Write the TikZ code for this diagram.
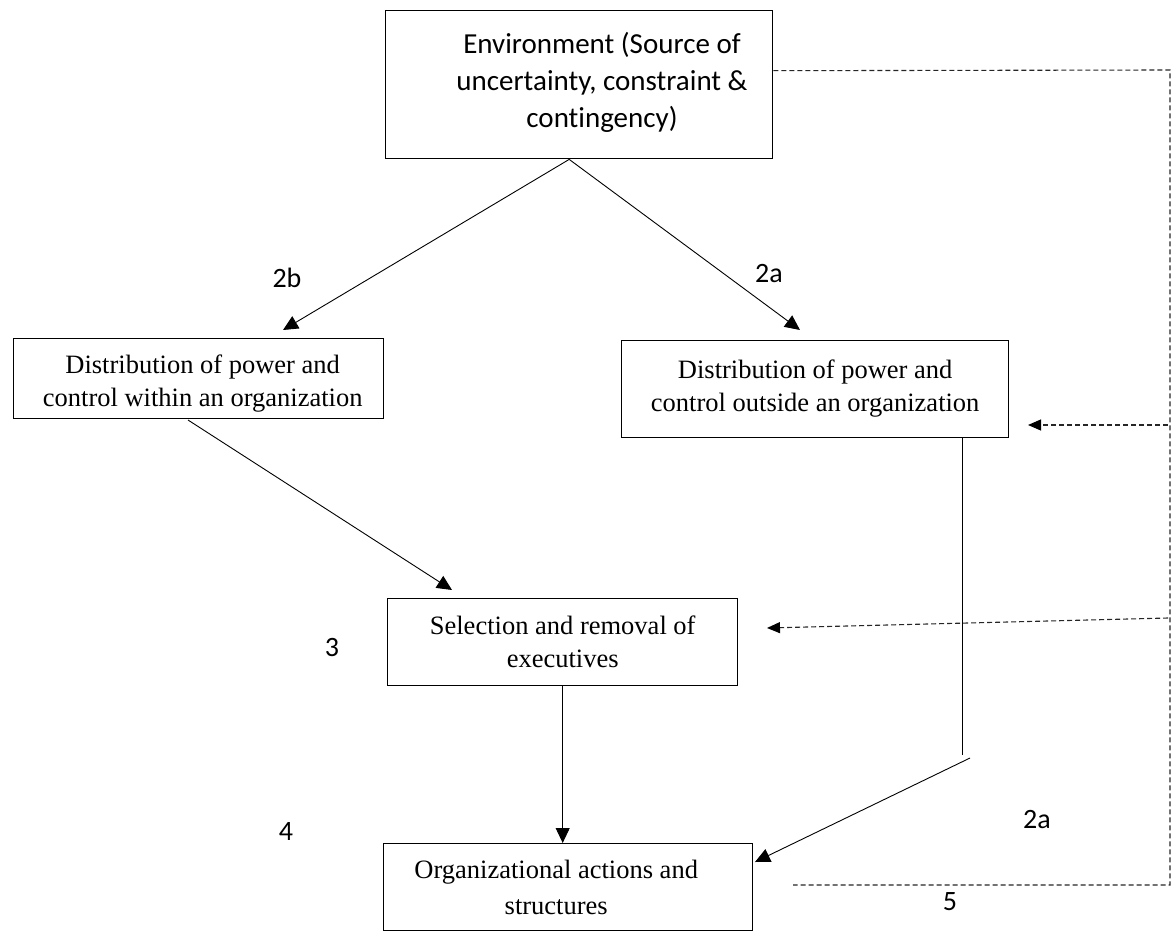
\documentclass[tikz,border=0pt]{standalone}
\usepackage{fontspec}
\setmainfont{Liberation Serif}
\newfontfamily\labelfont[Ligatures=NoCommon]{Carlito}
\usetikzlibrary{arrows.meta}
\begin{document}
\begin{tikzpicture}[x=1pt,y=-1pt,
  box/.style={draw=black,line width=1.4pt,inner sep=0pt,anchor=north west},
  boxtext/.style={align=center,font=\fontsize{26.5}{33}\selectfont},
  envtext/.style={align=center,font=\labelfont\fontsize{29}{37}\selectfont},
  tag/.style={font=\labelfont\fontsize{28}{34}\selectfont},
  link/.style={draw=black,line width=0.9pt},
  linkarrow/.style={link,-{Triangle[length=15pt,width=14pt]}},
  feedback/.style={draw=black!85,line width=1.1pt,dash pattern=on 5pt off 3pt},
  feedbackarrow/.style={feedback,-{Triangle[length=13pt,width=11pt,color=black,fill=black]}}]
\useasboundingbox (0,0) rectangle (1172,939);

% boxes
\node[box,minimum width=387pt,minimum height=148pt] (env) at (385,10) {};
\node[envtext] (envlabel) at (602,82) {Environment (Source of\\uncertainty, constraint \&\\contingency)};
\node[box,minimum width=370pt,minimum height=80pt] (inside) at (13,338) {};
\node[boxtext] (insidelabel) at ([xshift=4pt,yshift=-5pt]inside.center) {Distribution of power and\\control within an organization};
\node[box,minimum width=387pt,minimum height=97pt] (outside) at (621,340) {};
\node[boxtext] (outsidelabel) at ([yshift=1pt]outside.center) {Distribution of power and\\control outside an organization};
\node[box,minimum width=350pt,minimum height=87pt] (select) at (387,598) {};
\node[boxtext] (selectlabel) at (select.center) {Selection and removal of\\executives};
\node[box,minimum width=369pt,minimum height=87pt] (actions) at (383,843) {};
\node[boxtext,font=\fontsize{26.5}{36}\selectfont] (actionslabel) at ([xshift=-12pt]actions.center) {Organizational actions and\\structures};

% numbered tags
\node[tag] (t2b) at (287,278) {2b};
\node[tag] (t2a) at (769,274) {2a};
\node[tag] (t3) at (332,648) {3};
\node[tag] (t4) at (286,832) {4};
\node[tag] (t2c) at (1037,820) {2a};
\node[tag] (t5) at (950,902) {5};

% connector end points
\coordinate (envfoot) at ([xshift=-10pt]env.south);
\coordinate (tipin) at (283,330);
\coordinate (tipout) at (800,330);
\coordinate (insidefoot) at (188,420);
\coordinate (tipsel) at (452,590);
\coordinate (outfoot) at (outside.south -| 962,0);
\coordinate (outdrop) at (962,755);
\coordinate (bendstart) at (970,758);
\coordinate (tipact) at (755,862);
\coordinate (fbtop) at (1170,70);
\coordinate (fbbottom) at (1170,885);
\coordinate (fbend) at (793,885);
\coordinate (fbout) at (1168,425);
\coordinate (fbouttip) at (1028,425);
\coordinate (fbsel) at (1168,618);
\coordinate (fbseltip) at (767,628);

% solid connectors
\draw[linkarrow] (envfoot) -- (tipin);
\draw[linkarrow] (envfoot) -- (tipout);
\draw[linkarrow] (insidefoot) -- (tipsel);
\draw[linkarrow] (select.south) -- (select.south |- actions.north);
\draw[link] (outfoot) -- (outdrop);
\draw[linkarrow] (bendstart) -- (tipact);

% dashed feedback loop
\draw[feedback] ([yshift=14pt]env.east) -- (fbtop) -- (fbbottom) -- (fbend);
\draw[feedbackarrow] (fbout) -- (fbouttip);
\draw[feedbackarrow] (fbsel) -- (fbseltip);
\end{tikzpicture}
\end{document}
